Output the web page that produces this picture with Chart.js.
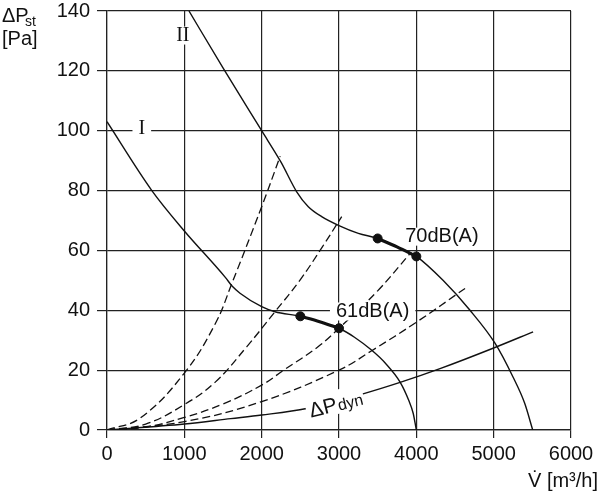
<!DOCTYPE html>
<html>
<head>
<meta charset="utf-8">
<script src="https://cdn.jsdelivr.net/npm/chart.js@4.4.1/dist/chart.umd.min.js"></script>
<style>
  html, body { margin: 0; background: #fff; }
  #wrap { width: 600px; height: 500px; }
</style>
</head>
<body>
<div id="wrap"><canvas id="chart"></canvas></div>
<script>
// fan curves, V in m³/h, ΔPst in Pa
const curveI = [[0,103],[580,80],[1000,66.5],[1530,51],[1620,48],[1720,45.7],[2000,41.2],[2172,39.5],[2500,38],
  [2750,36.2],[3000,34],[3200,31],[3420,26.7],[3600,22.3],[3790,16],[3900,10],[3960,5.5],[4000,0]];
const curveII = [[1060,140],[1500,121],[2000,100],[2250,89.5],[2453,79.6],[2603,74.6],[2776,71.3],[3000,68.3],
  [3250,65.7],[3500,64],[3750,61.2],[4000,58],[4345,50],[4694,40],[5017,29],[5250,17.7],[5400,9],[5505,0]];
// low-noise operating ranges (thick parts)
const rangeI = [[2500,38],[2750,36.2],[3000,34]];
const rangeII = [[3500,64],[3750,61.2],[4000,58]];
// system curves (dashed)
const sys1 = [[0,0],[430,4],[1000,19],[1400,35.5],[1615,49],[2000,74.6],[2240,91.5]];
const sys2 = [[0,0],[500,2],[1000,8.5],[1400,16],[1806,27.8],[2172,39.5],[2496,50.1],[2785,61.2],[3035,71.3]];
const sys3 = [[0,0],[500,1],[1000,4.2],[1500,8.7],[2000,15],[2285,20],[2729,27.8],[3000,34],[3500,46.5],[3920,59]];
const sys4 = [[0,0],[1000,2.8],[2000,9.5],[3000,20],[3423,26.5],[4000,36],[4630,47.3]];
// dynamic pressure
const dynP = [[0,0],[1000,2],[1600,3.8],[2000,5],[2580,7.2],[3300,12],[3790,15.9],[4306,20.5],[5000,27.4],[5510,32.8]];
// marked operating points
const points = [[2500,38],[3000,34],[3500,64],[4000,58]];

// text labels: [text, x, y, font]
const labels = [
  ['I', 450, 100.8, '20px "Liberation Serif"'],
  ['II', 980, 131.8, '20px "Liberation Serif"'],
  ['70dB(A)', 4330, 64.6, '20px "Liberation Sans"'],
  ['61dB(A)', 3435, 39.6, '20px "Liberation Sans"']
];
const dynLabel = { x: 2940, y: 8.8, angle: -14 };

const toXY = arr => arr.map(p => ({ x: p[0], y: p[1] }));

function line(data, opts) {
  return Object.assign({
    data: toXY(data),
    showLine: true,
    borderColor: '#111',
    borderWidth: 1.4,
    pointRadius: 0,
    cubicInterpolationMode: 'monotone',
    fill: false
  }, opts || {});
}

const dashed = { borderDash: [8, 4], borderWidth: 1.3, cubicInterpolationMode: 'default', tension: 0.4 };

const labelPlugin = {
  id: 'labels',
  afterDatasetsDraw(chart) {
    const ctx = chart.ctx;
    const xs = chart.scales.x, ys = chart.scales.y;
    ctx.save();
    ctx.textAlign = 'center';
    ctx.textBaseline = 'middle';
    labels.forEach(([t, x, y, font]) => {
      ctx.font = font;
      const px = xs.getPixelForValue(x), py = ys.getPixelForValue(y);
      const w = ctx.measureText(t).width;
      ctx.fillStyle = '#fff';
      ctx.fillRect(px - w / 2 - 6, py - 9, w + 12, 18);
      ctx.fillStyle = '#111';
      ctx.fillText(t, px, py);
    });
    // ΔPdyn, tilted along its curve
    const px = xs.getPixelForValue(dynLabel.x), py = ys.getPixelForValue(dynLabel.y);
    ctx.translate(px, py);
    ctx.rotate(dynLabel.angle * Math.PI / 180);
    ctx.fillStyle = '#fff';
    ctx.fillRect(-29, -13, 59, 24);
    ctx.fillStyle = '#111';
    ctx.textAlign = 'left';
    ctx.textBaseline = 'alphabetic';
    ctx.font = '21px "Liberation Sans"';
    ctx.fillText('ΔP', -26, 8);
    ctx.font = '16px "Liberation Sans"';
    ctx.fillText('dyn', 3, 8);
    ctx.restore();
  },
  afterDraw(chart) {
    const ctx = chart.ctx;
    ctx.save();
    ctx.fillStyle = '#111';
    ctx.textBaseline = 'alphabetic';
    ctx.textAlign = 'left';
    ctx.font = '20px "Liberation Sans"';
    ctx.fillText('ΔP', 2, 22);
    ctx.font = '14px "Liberation Sans"';
    ctx.fillText('st', 25, 26);
    ctx.font = '20px "Liberation Sans"';
    ctx.fillText('[Pa]', 2, 45);
    ctx.textAlign = 'right';
    ctx.fillText('V\u0307 [m³/h]', 598, 487);
    ctx.restore();
  }
};

new Chart(document.getElementById('chart'), {
  type: 'scatter',
  data: {
    datasets: [
      line(sys1, dashed),
      line(sys2, dashed),
      line(sys3, dashed),
      line(sys4, dashed),
      line(dynP),
      line(curveI),
      line(curveII),
      line(rangeI, { borderWidth: 3.2 }),
      line(rangeII, { borderWidth: 3.2 }),
      { data: toXY(points), pointRadius: 4.5, pointBackgroundColor: '#111', pointBorderColor: '#111', showLine: false }
    ]
  },
  plugins: [labelPlugin],
  options: {
    responsive: true,
    maintainAspectRatio: false,
    animation: false,
    layout: { padding: { top: 11, right: 29, left: 0, bottom: 0 } },
    plugins: { legend: { display: false }, tooltip: { enabled: false } },
    scales: {
      x: {
        type: 'linear',
        min: 0, max: 6000,
        afterFit: s => { s.height = 70; s.paddingLeft = 0; s.paddingRight = 0; },
        grid: { color: '#222', lineWidth: 1.2, tickLength: 8 },
        border: { color: '#222', width: 1.2 },
        ticks: { stepSize: 1000, color: '#111', font: { family: 'Liberation Sans', size: 20 }, padding: 4, maxRotation: 0,
          callback: v => String(v) }
      },
      y: {
        min: 0, max: 140,
        afterFit: s => { s.width = 107; s.paddingTop = 0; s.paddingBottom = 0; },
        grid: { color: '#222', lineWidth: 1.2, tickLength: 10 },
        border: { color: '#222', width: 1.2 },
        ticks: { stepSize: 20, color: '#111', font: { family: 'Liberation Sans', size: 20 }, padding: 7 }
      }
    }
  }
});
</script>
</body>
</html>
